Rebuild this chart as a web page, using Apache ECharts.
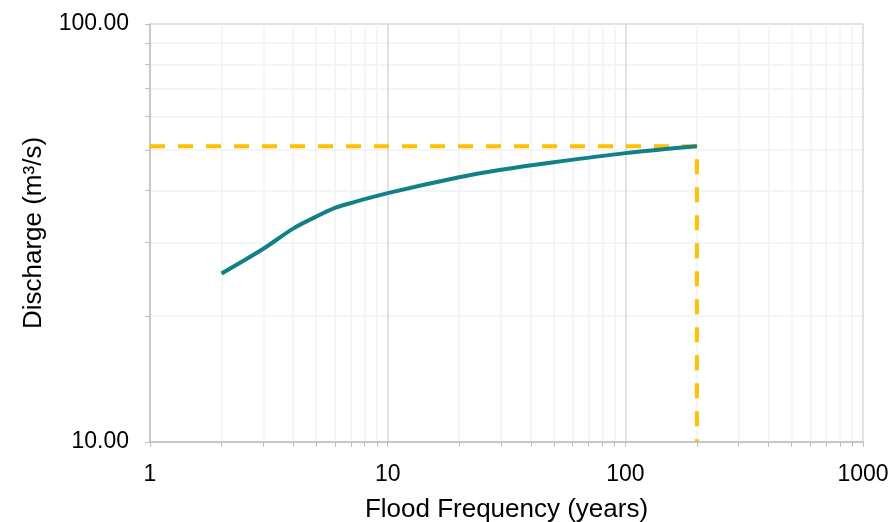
<!DOCTYPE html>
<html>
<head>
<meta charset="utf-8">
<script src="https://cdn.jsdelivr.net/npm/echarts@6/dist/echarts.min.js"></script>
<style>
html, body {margin:0; padding:0; background:#fff}
#chart {width:894px; height:522px}
</style>
</head>
<body>
<div id="chart"></div>
<script>
// flood frequency curve
var returnPeriod = [2, 3, 4, 5, 6, 7, 10, 20, 30, 50, 100, 200]
var discharge = [25.3, 29.0, 32.4, 34.6, 36.3, 37.3, 39.4, 43.0, 44.8, 46.7, 49.1, 51.0]

// design event guide lines
var designT = 200
var designQ = 51.0

var xTicks = [1,2,3,4,5,6,7,8,9,10,20,30,40,50,60,70,80,90,100,200,300,400,500,600,700,800,900,1000]
var xLabels = [1, 10, 100, 1000]
var yTicks = [10,20,30,40,50,60,70,80,90,100]
var yLabels = [10, 100]

var font = 'Liberation Sans, Arial, sans-serif'
var majorCol = '#d9d9d9'
var minorCol = '#f2f2f2'
var gridCols = [majorCol, minorCol, minorCol, minorCol, minorCol, minorCol, minorCol, minorCol, minorCol]

var curve = []
for (var i = 0; i < returnPeriod.length; i++){
    curve.push([returnPeriod[i], discharge[i]])
}
var guide = [[xTicks[0], designQ], [designT, designQ], [designT, yTicks[0]]]

var chart = echarts.init(document.getElementById('chart'))
var option = {
    animation: false,
    grid: {left: 150, right: 31, top: 24, bottom: 80, containLabel: false, outerBoundsMode: 'none'},
    xAxis: {
        type: 'log',
        logBase: 10,
        min: 1,
        max: 1000,
        name: 'Flood Frequency (years)',
        nameLocation: 'middle',
        nameGap: 55,
        nameTextStyle: {fontFamily: font, fontSize: 26, color: '#000'},
        axisLine: {lineStyle: {color: '#bfbfbf', width: 1.5}},
        axisTick: {show: true, length: 5, customValues: xTicks, lineStyle: {color: '#bfbfbf'}},
        axisLabel: {
            customValues: xLabels,
            margin: 21,
            fontFamily: font,
            fontSize: 23,
            color: '#000',
            formatter: function(v){ return String(Math.round(v)) }
        },
        splitLine: {show: true, lineStyle: {color: gridCols, width: 1.5}}
    },
    yAxis: {
        type: 'log',
        logBase: 10,
        min: 10,
        max: 100,
        name: 'Discharge (m³/s)',
        nameLocation: 'middle',
        nameGap: 103,
        nameTextStyle: {fontFamily: font, fontSize: 26, color: '#000'},
        axisLine: {show: true, lineStyle: {color: '#bfbfbf', width: 1.5}},
        axisTick: {show: true, length: 5, customValues: yTicks, lineStyle: {color: '#bfbfbf'}},
        axisLabel: {
            customValues: yLabels,
            margin: 21,
            fontFamily: font,
            fontSize: 23,
            color: '#000',
            formatter: function(v){ return Number(v).toFixed(2) }
        },
        splitLine: {show: true, lineStyle: {color: gridCols, width: 1.5}}
    },
    series: [
        {
            type: 'line',
            data: guide,
            symbol: 'none',
            lineStyle: {color: '#ffc000', width: 4, type: [15, 13]}
        },
        {
            type: 'line',
            data: curve,
            symbol: 'none',
            smooth: 0.3,
            lineStyle: {color: '#128089', width: 4}
        }
    ]
}
chart.setOption(option)
</script>
</body>
</html>
